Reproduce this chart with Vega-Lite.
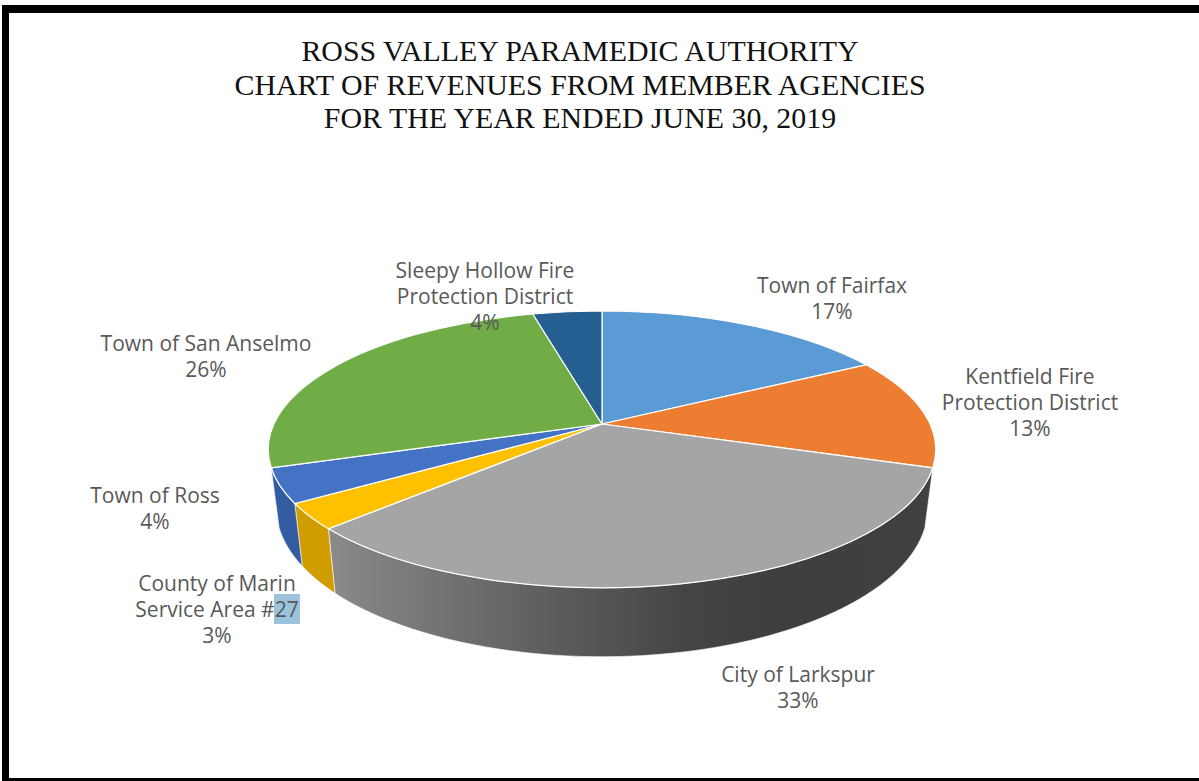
{
  "$schema": "https://vega.github.io/schema/vega-lite/v6.json",
  "autosize": {"type": "fit", "contains": "padding"},
  "width": 1199,
  "height": 781,
  "background": "#ffffff",
  "padding": 0,
  "view": {"stroke": null},
  "data": {"values": [
    {"agency": "Town of Fairfax", "label": "Town of Fairfax", "share": 17, "front": false},
    {"agency": "Kentfield Fire Protection District", "label": "Kentfield Fire\nProtection District", "share": 13, "front": false},
    {"agency": "City of Larkspur", "label": "City of Larkspur", "share": 33, "front": true},
    {"agency": "County of Marin Service Area #27", "label": "County of Marin\nService Area #27", "share": 3, "front": true},
    {"agency": "Town of Ross", "label": "Town of Ross", "share": 4, "front": true},
    {"agency": "Town of San Anselmo", "label": "Town of San Anselmo", "share": 26, "front": false},
    {"agency": "Sleepy Hollow Fire Protection District", "label": "Sleepy Hollow Fire\nProtection District", "share": 4, "front": false}
  ]},
  "transform": [
    {"window": [{"op": "sum", "field": "share", "as": "cum"}], "frame": [null, 0]},
    {"calculate": "2*PI*(datum.cum-datum.share)/100", "as": "t0"},
    {"calculate": "2*PI*datum.cum/100", "as": "t1"},
    {"calculate": "round(3280*sin(datum.t0)/(1+0.184*cos(datum.t0)))/10", "as": "x0"},
    {"calculate": "round(-1338*cos(datum.t0)/(1+0.184*cos(datum.t0)))/10", "as": "y0"},
    {"calculate": "round(3280*sin(datum.t1)/(1+0.184*cos(datum.t1)))/10", "as": "x1"},
    {"calculate": "round(-1338*cos(datum.t1)/(1+0.184*cos(datum.t1)))/10", "as": "y1"},
    {"calculate": "round(10*datum.x0*326/334)/10", "as": "bx0"},
    {"calculate": "round(10*(84+(datum.y0-25.5)*149/138.5))/10", "as": "by0"},
    {"calculate": "round(10*datum.x1*326/334)/10", "as": "bx1"},
    {"calculate": "round(10*(84+(datum.y1-25.5)*149/138.5))/10", "as": "by1"},
    {"calculate": "'M0 0L'+datum.x0+' '+datum.y0+'A334 138.5 0 0 1 '+datum.x1+' '+datum.y1+'Z'", "as": "face"},
    {"calculate": "'M'+datum.x0+' '+datum.y0+'A334 138.5 0 0 1 '+datum.x1+' '+datum.y1+'L'+datum.bx1+' '+datum.by1+'A326 149 0 0 0 '+datum.bx0+' '+datum.by0+'Z'", "as": "wall"},
    {"calculate": "{'Town of Fairfax':230,'Kentfield Fire Protection District':428,'City of Larkspur':196,'County of Marin Service Area #27':-385,'Town of Ross':-447,'Town of San Anselmo':-396,'Sleepy Hollow Fire Protection District':-117}[datum.agency]", "as": "labelX"},
    {"calculate": "{'Town of Fairfax':-137.5,'Kentfield Fire Protection District':-46.5,'City of Larkspur':251.5,'County of Marin Service Area #27':160.5,'Town of Ross':72.5,'Town of San Anselmo':-79.5,'Sleepy Hollow Fire Protection District':-152.5}[datum.agency]", "as": "labelY"},
    {"calculate": "datum.label+'\\n'+datum.share+'%'", "as": "caption"}
  ],
  "layer": [
    {
      "transform": [{"filter": "datum.agency === 'City of Larkspur'"}],
      "mark": {"type": "point", "filled": true, "opacity": 1, "stroke": "#ffffff", "strokeWidth": 0.6,
        "fill": {"gradient": "linear", "x1": 0, "y1": 0, "x2": 1, "y2": 0, "stops": [
          {"offset": 0, "color": "#8a8a8a"},
          {"offset": 0.35, "color": "#5f5f5f"},
          {"offset": 0.6, "color": "#444444"},
          {"offset": 0.75, "color": "#3e3e3e"},
          {"offset": 1, "color": "#414141"}
        ]}},
      "encoding": {
        "x": {"datum": 0, "type": "quantitative", "axis": null, "scale": {"domain": [-602, 597], "nice": false, "zero": false}},
        "y": {"datum": 0, "type": "quantitative", "axis": null, "scale": {"domain": [-424, 357], "nice": false, "zero": false, "reverse": true}},
        "shape": {"field": "wall", "type": "nominal", "scale": null, "legend": null},
        "size": {"value": 4}
      }
    },
    {
      "transform": [{"filter": "datum.front && datum.agency !== 'City of Larkspur'"}],
      "mark": {"type": "point", "filled": true, "opacity": 1, "stroke": "#ffffff", "strokeWidth": 0.6},
      "encoding": {
        "x": {"datum": 0, "type": "quantitative", "axis": null, "scale": {"domain": [-602, 597], "nice": false, "zero": false}},
        "y": {"datum": 0, "type": "quantitative", "axis": null, "scale": {"domain": [-424, 357], "nice": false, "zero": false, "reverse": true}},
        "shape": {"field": "wall", "type": "nominal", "scale": null, "legend": null},
        "size": {"value": 4},
        "color": {"field": "agency", "type": "nominal", "legend": null, "scale": {
          "domain": ["County of Marin Service Area #27", "Town of Ross"],
          "range": ["#cf9d00", "#345ca3"]}}
      }
    },
    {
      "mark": {"type": "point", "filled": true, "opacity": 1, "stroke": "#ffffff", "strokeWidth": 1.2},
      "encoding": {
        "x": {"datum": 0, "type": "quantitative", "axis": null, "scale": {"domain": [-602, 597], "nice": false, "zero": false}},
        "y": {"datum": 0, "type": "quantitative", "axis": null, "scale": {"domain": [-424, 357], "nice": false, "zero": false, "reverse": true}},
        "shape": {"field": "face", "type": "nominal", "scale": null, "legend": null},
        "size": {"value": 4},
        "fill": {"field": "agency", "type": "nominal", "legend": null, "scale": {
          "domain": ["Town of Fairfax", "Kentfield Fire Protection District", "City of Larkspur", "County of Marin Service Area #27", "Town of Ross", "Town of San Anselmo", "Sleepy Hollow Fire Protection District"],
          "range": ["#5b9bd5", "#ed7d31", "#a5a5a5", "#ffc000", "#4472c4", "#70ad47", "#255e91"]}}
      }
    },
    {
      "data": {"values": [{"note": "#27"}]},
      "transform": [],
      "mark": {"type": "rect", "color": "#9cc3dc"},
      "encoding": {
        "x": {"datum": -328, "type": "quantitative", "axis": null, "scale": {"domain": [-602, 597], "nice": false, "zero": false}},
        "x2": {"datum": -302},
        "y": {"datum": 170, "type": "quantitative", "axis": null, "scale": {"domain": [-424, 357], "nice": false, "zero": false, "reverse": true}},
        "y2": {"datum": 200}
      }
    },
    {
      "mark": {"type": "text", "font": "Open Sans", "fontSize": 21, "color": "#595959", "lineHeight": 26.3, "lineBreak": "\n", "align": "center", "baseline": "middle"},
      "encoding": {
        "x": {"field": "labelX", "type": "quantitative", "axis": null, "scale": {"domain": [-602, 597], "nice": false, "zero": false}},
        "y": {"field": "labelY", "type": "quantitative", "axis": null, "scale": {"domain": [-424, 357], "nice": false, "zero": false, "reverse": true}},
        "text": {"field": "caption", "type": "nominal"}
      }
    },
    {
      "data": {"values": [{"heading": "ROSS VALLEY PARAMEDIC AUTHORITY\nCHART OF REVENUES FROM MEMBER AGENCIES\nFOR THE YEAR ENDED JUNE 30, 2019"}]},
      "transform": [],
      "mark": {"type": "text", "font": "Liberation Serif", "fontSize": 29.9, "color": "#111111", "lineHeight": 33.5, "lineBreak": "\n", "align": "center", "baseline": "middle"},
      "encoding": {
        "x": {"datum": -22, "type": "quantitative", "axis": null, "scale": {"domain": [-602, 597], "nice": false, "zero": false}},
        "y": {"datum": -372, "type": "quantitative", "axis": null, "scale": {"domain": [-424, 357], "nice": false, "zero": false, "reverse": true}},
        "text": {"field": "heading", "type": "nominal"}
      }
    },
    {
      "data": {"values": [{"edge": "top"}]},
      "transform": [],
      "mark": {"type": "rect", "color": "#000000"},
      "encoding": {
        "x": {"datum": -600, "type": "quantitative", "axis": null, "scale": {"domain": [-602, 597], "nice": false, "zero": false}},
        "x2": {"datum": 597},
        "y": {"datum": -419, "type": "quantitative", "axis": null, "scale": {"domain": [-424, 357], "nice": false, "zero": false, "reverse": true}},
        "y2": {"datum": -411}
      }
    },
    {
      "data": {"values": [{"edge": "left"}]},
      "transform": [],
      "mark": {"type": "rect", "color": "#000000"},
      "encoding": {
        "x": {"datum": -600, "type": "quantitative", "axis": null, "scale": {"domain": [-602, 597], "nice": false, "zero": false}},
        "x2": {"datum": -593},
        "y": {"datum": -419, "type": "quantitative", "axis": null, "scale": {"domain": [-424, 357], "nice": false, "zero": false, "reverse": true}},
        "y2": {"datum": 357}
      }
    },
    {
      "data": {"values": [{"edge": "bottom"}]},
      "transform": [],
      "mark": {"type": "rect", "color": "#000000"},
      "encoding": {
        "x": {"datum": -600, "type": "quantitative", "axis": null, "scale": {"domain": [-602, 597], "nice": false, "zero": false}},
        "x2": {"datum": 597},
        "y": {"datum": 354, "type": "quantitative", "axis": null, "scale": {"domain": [-424, 357], "nice": false, "zero": false, "reverse": true}},
        "y2": {"datum": 357}
      }
    }
  ]
}
